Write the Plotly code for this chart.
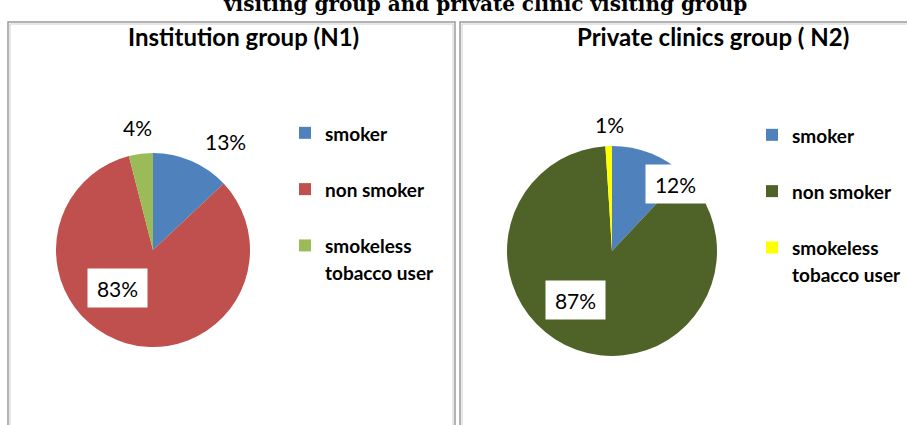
import plotly.graph_objects as go

W, H = 907, 425

# ---- data ----
categories = ["smoker", "non smoker", "smokeless tobacco user"]
legend_text = ["smoker", "non smoker", "smokeless<br>tobacco user"]
n1_values = [13, 83, 4]
n2_values = [12, 87, 1]
n1_colors = ["#4F81BD", "#C0504D", "#9BBB59"]
n2_colors = ["#4F81BD", "#4F6228", "#FFFF00"]
panel_titles = ["Institution group (N1)", "Private clinics group ( N2)"]
main_title = "visiting group and private clinic visiting group"

LBL_FONT = "Lato"


def px(x):
    return x / W


def py(y):
    return 1 - y / H


def leg_labels(suffix=""):
    out = []
    for t in legend_text:
        lab = t if "<br>" in t else t + "<br>\u00a0"
        out.append('<span style="font-size:19px">' + lab + "</span>" + suffix)
    return out


fig = go.Figure()

# pie 1
c1, r1 = (153, 250), 97
fig.add_trace(go.Pie(
    labels=leg_labels(), values=n1_values, sort=False, direction="clockwise",
    rotation=0, marker=dict(colors=n1_colors, line=dict(width=0)),
    textinfo="none", hoverinfo="percent",
    domain=dict(x=[px(c1[0] - r1), px(c1[0] + r1)], y=[py(c1[1] + r1), py(c1[1] - r1)]),
    legend="legend",
))
# pie 2
c2, r2 = (612, 251), 105
fig.add_trace(go.Pie(
    labels=leg_labels("\u200b"), values=n2_values, sort=False, direction="clockwise",
    rotation=0, marker=dict(colors=n2_colors, line=dict(width=0)),
    textinfo="none", hoverinfo="percent",
    domain=dict(x=[px(c2[0] - r2), px(c2[0] + r2)], y=[py(c2[1] + r2), py(c2[1] - r2)]),
    legend="legend2",
))

# panel borders
for x0, x1 in [(8, 455), (460, 920)]:
    fig.add_shape(type="rect", xref="paper", yref="paper",
                  x0=px(x0), x1=px(x1), y0=py(440), y1=py(22),
                  line=dict(color="#9a9a9a", width=1.5), fillcolor="rgba(0,0,0,0)")
    fig.add_shape(type="rect", xref="paper", yref="paper",
                  x0=px(x0 + 2), x1=px(x1 - 2), y0=py(440), y1=py(24),
                  line=dict(color="#d0d0d0", width=1), fillcolor="rgba(0,0,0,0)")

annotations = []
# main title (cut off at top, as in the reference)
annotations.append(dict(text="<b>" + main_title + "</b>", x=px(485), y=py(4),
                        xref="paper", yref="paper", showarrow=False,
                        xanchor="center", yanchor="middle",
                        font=dict(family="DejaVu Serif", size=20, color="#000")))
# panel titles
for t, cx in zip(panel_titles, [244, 713]):
    annotations.append(dict(text="<b>" + t + "</b>", x=px(cx), y=py(36),
                            xref="paper", yref="paper", showarrow=False,
                            xanchor="center", yanchor="middle",
                            font=dict(family=LBL_FONT, size=24, color="#000")))

# data labels
lbl_pos_1 = [(225, 141, False), (117, 288, True), (137, 127, False)]
lbl_pos_2 = [(675, 184, True), (575, 300, True), (609, 124, False)]
for vals, poss in [(n1_values, lbl_pos_1), (n2_values, lbl_pos_2)]:
    for v, (x, y, boxed) in zip(vals, poss):
        a = dict(text=f"{v}%", x=px(x), y=py(y), xref="paper", yref="paper",
                 showarrow=False, xanchor="center", yanchor="middle",
                 font=dict(family=LBL_FONT, size=21, color="#000"))
        if boxed:
            a.update(bgcolor="#FFFFFF", width=51, height=30, borderpad=4)
        annotations.append(a)

leg_common = dict(font=dict(family=LBL_FONT, size=20.5, color="#000", weight="bold"),
                  bgcolor="rgba(0,0,0,0)", valign="top", traceorder="normal",
                  xanchor="left", yanchor="top", itemclick=False, itemdoubleclick=False)

fig.update_layout(
    width=W, height=H,
    margin=dict(l=0, r=0, t=0, b=0),
    paper_bgcolor="#FFFFFF",
    plot_bgcolor="#FFFFFF",
    showlegend=True,
    legend=dict(x=px(285), y=py(113), **leg_common),
    legend2=dict(x=px(752), y=py(115), **leg_common),
    annotations=annotations,
)

fig.write_html("out.html")
